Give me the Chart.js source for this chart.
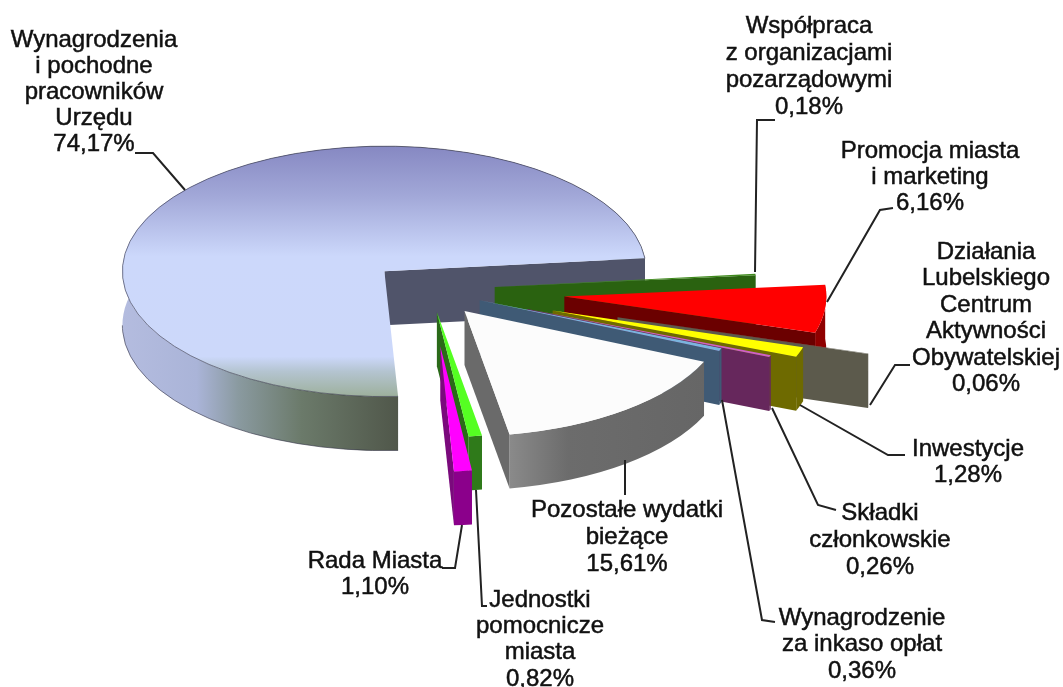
<!DOCTYPE html>
<html lang="pl">
<head>
<meta charset="utf-8">
<title>Wydatki</title>
<script src="https://cdn.jsdelivr.net/npm/chart.js@4"></script>
<style>
  html, body { margin: 0; padding: 0; background: #fff; }
  #wrap { width: 1063px; height: 687px; position: relative; }
</style>
</head>
<body>
<div id="wrap"><canvas id="chart"></canvas></div>
<script>
"use strict";

const categories = [
  "Wynagrodzenia i pochodne pracowników Urzędu",
  "Współpraca z organizacjami pozarządowymi",
  "Promocja miasta i marketing",
  "Działania Lubelskiego Centrum Aktywności Obywatelskiej",
  "Inwestycje",
  "Składki członkowskie",
  "Wynagrodzenie za inkaso opłat",
  "Pozostałe wydatki bieżące",
  "Jednostki pomocnicze miasta",
  "Rada Miasta"
];
const values = [74.17, 0.18, 6.16, 0.06, 1.28, 0.26, 0.36, 15.61, 0.82, 1.10];

// how far each slice is pulled out of the pie
const explode = [60, 65, 135, 196, 130, 105, 54, 56, 47, 118];
// back to front
const drawOrder = [0, 1, 2, 3, 4, 5, 6, 7, 8, 9];

const topColors = ["#ccd8fb", "#3f8a1c", "#ff0000", "#77756a", "#ffff00", "#d060c8", "#7ab4de", "#fcfcfc", "#55ff22", "#ff00ff"];
const sideColors = ["#50546a", "#2a6210", "#6b0000", "#5c5a4c", "#6e6a00", "#66275c", "#3f5a75", "#6a6a6a", "#2a6a18", "#7a0a7c"];
const rimColors = ["#8a9aa0", "#2f7016", "#8f0000", "#5c5a4c", "#6e6a00", "#66275c", "#3f5a75", "#6e6e6e", "#2f7a1a", "#8b008b"];

const labelLines = [
  ["Wynagrodzenia", "i pochodne", "pracowników", "Urzędu"],
  ["Współpraca", "z organizacjami", "pozarządowymi"],
  ["Promocja miasta", "i marketing"],
  ["Działania", "Lubelskiego", "Centrum", "Aktywności", "Obywatelskiej"],
  ["Inwestycje"],
  ["Składki", "członkowskie"],
  ["Wynagrodzenie", "za inkaso opłat"],
  ["Pozostałe wydatki", "bieżące"],
  ["Jednostki", "pomocnicze", "miasta"],
  ["Rada Miasta"]
];
const labelX = [94, 809, 930, 986, 968, 880, 862, 627, 540, 375];
const labelY = [40, 26, 151, 252, 449, 513, 618, 510, 600, 561];
const labelStep = [26, 27, 26, 26.5, 26, 27, 26.5, 27, 26.3, 26];
const leaders = [
  [[135, 153], [153, 153], [185, 190]],
  [[775, 120], [757, 120], [755, 272]],
  [[893, 208], [880, 210], [827, 302]],
  [[910, 365], [895, 365], [870, 405]],
  [[905, 455], [888, 455], [800, 405]],
  [[836, 510], [818, 505], [772, 408]],
  [[775, 622], [762, 620], [722, 400]],
  [[625, 495], [625, 460]],
  [[487, 606], [482, 606], [476, 490]],
  [[442, 568], [455, 568], [462, 525]]
];

const squash = 0.478;
const depth = 54;

function percent(v) {
  return v.toFixed(2).replace(".", ",") + "%";
}

// top face of the big slice fades from blue-violet at the back to grey-green at the front
function mainFill(chart) {
  const area = chart.chartArea;
  if (!area) return topColors[0];
  const g = chart.ctx.createLinearGradient(0, area.top, 0, area.bottom);
  g.addColorStop(0, "#8688c2");
  g.addColorStop(0.2, "#a2a8d8");
  g.addColorStop(0.44, "#ccd8fb");
  g.addColorStop(0.84, "#ccd8fa");
  g.addColorStop(0.9, "#b4c4d0");
  g.addColorStop(1, "#9db09c");
  return g;
}

function rimFill(ctx, i, left, right) {
  if (i === 0) {
    const g = ctx.createLinearGradient(left, 0, right, 0);
    g.addColorStop(0, "#b4bcdf");
    g.addColorStop(0.27, "#aab4d8");
    g.addColorStop(0.42, "#8a9aa0");
    g.addColorStop(0.65, "#6b7a6a");
    g.addColorStop(1, "#50574a");
    return g;
  }
  if (i === 7) {
    const g = ctx.createLinearGradient(left, 0, right, 0);
    g.addColorStop(0, "#8a8a8a");
    g.addColorStop(0.3, "#6c6c6c");
    g.addColorStop(1, "#666666");
    return g;
  }
  return rimColors[i];
}

const pie3d = {
  id: "pie3d",
  beforeDatasetsDraw(chart) {
    const ctx = chart.ctx;
    const arcs = chart.getDatasetMeta(0).data;
    drawOrder.forEach(i => {
      const arc = arcs[i];
      const mid = (arc.startAngle + arc.endAngle) / 2;
      const r = arc.outerRadius;
      const cx = arc.x + explode[i] * Math.cos(mid);
      const cy = arc.y + explode[i] * Math.sin(mid) * squash;
      const tipX = cx + r * Math.cos(arc.endAngle);
      const tipY = cy + r * Math.sin(arc.endAngle) * squash;
      const startX = cx + r * Math.cos(arc.startAngle);

      // wall along the rim
      ctx.beginPath();
      ctx.ellipse(cx, cy, r, r * squash, 0, arc.startAngle, arc.endAngle);
      ctx.ellipse(cx, cy + depth, r, r * squash, 0, arc.endAngle, arc.startAngle, true);
      ctx.closePath();
      ctx.fillStyle = i === 0 ? rimFill(ctx, i, cx - r, startX) : rimFill(ctx, i, tipX, startX);
      ctx.fill();

      // wall along the cut edge
      ctx.beginPath();
      ctx.moveTo(cx, cy);
      ctx.lineTo(tipX, tipY);
      ctx.lineTo(tipX, tipY + depth);
      ctx.lineTo(cx, cy + depth);
      ctx.closePath();
      ctx.fillStyle = sideColors[i];
      ctx.fill();

      // top face comes from the library's own arc
      ctx.save();
      ctx.translate(cx, cy);
      ctx.scale(1, squash);
      ctx.translate(-arc.x, -arc.y);
      arc.draw(ctx);
      ctx.restore();

      if (i === 0) {
        ctx.strokeStyle = "rgba(50,50,70,0.6)";
        ctx.lineWidth = 1;
        ctx.beginPath();
        ctx.ellipse(cx, cy, r, r * squash, 0, arc.startAngle, arc.endAngle);
        ctx.stroke();
        ctx.beginPath();
        ctx.ellipse(cx, cy + depth, r, r * squash, 0, arc.startAngle, Math.PI);
        ctx.stroke();
      }
    });
    return false;
  },
  afterDraw(chart) {
    const ctx = chart.ctx;
    ctx.save();
    ctx.strokeStyle = "#222";
    ctx.lineWidth = 2;
    leaders.forEach(pts => {
      ctx.beginPath();
      pts.forEach((p, k) => k ? ctx.lineTo(p[0], p[1]) : ctx.moveTo(p[0], p[1]));
      ctx.stroke();
    });
    ctx.textAlign = "center";
    ctx.textBaseline = "middle";
    ctx.font = "24px 'Liberation Sans'";
    ctx.fillStyle = "#111";
    ctx.strokeStyle = "#111";
    ctx.lineWidth = 0.5;
    labelLines.forEach((lines, i) => {
      lines.concat(percent(values[i])).forEach((t, k) => {
        const y = labelY[i] + k * labelStep[i];
        ctx.fillText(t, labelX[i], y);
        ctx.strokeText(t, labelX[i], y);
      });
    });
    ctx.restore();
  }
};

new Chart(document.getElementById("chart"), {
  type: "pie",
  data: {
    labels: categories,
    datasets: [{
      data: values,
      borderWidth: 0,
      backgroundColor: c => c.dataIndex === 0 ? mainFill(c.chart) : topColors[c.dataIndex]
    }]
  },
  options: {
    responsive: true,
    maintainAspectRatio: false,
    animation: false,
    rotation: 177,
    layout: { padding: { left: 0, right: 203, top: 28, bottom: 135 } },
    plugins: { legend: { display: false }, tooltip: { enabled: false } }
  },
  plugins: [pie3d]
});
</script>
</body>
</html>
